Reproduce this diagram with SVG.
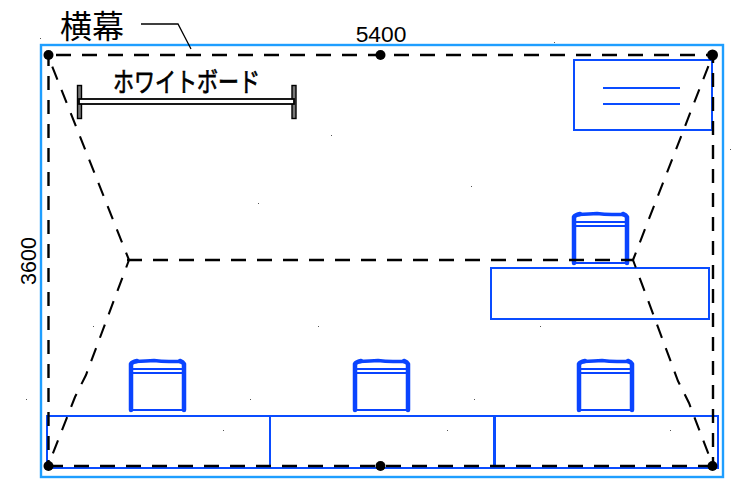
<svg xmlns="http://www.w3.org/2000/svg" width="732" height="484" viewBox="0 0 732 484">
<style>
.b{fill:none;stroke:#0a4cff;stroke-width:2}
.c{fill:none;stroke:#0a44ff;stroke-width:2}
.t{fill:none;stroke:#0a44ff;stroke-width:4.500;stroke-linecap:round;stroke-linejoin:round}
.u{fill:none;stroke:#0a44ff;stroke-width:3.500;stroke-linecap:round;stroke-linejoin:round}
.d{fill:none;stroke:#000;stroke-width:2.4;stroke-dasharray:15 11}
.v{fill:none;stroke:#000;stroke-width:2.4;stroke-dasharray:14 10}
.g{fill:none;stroke:#000;stroke-width:2.1;stroke-dasharray:14 11}
.k{fill:#000}
.p{fill:#777;stroke:#000;stroke-width:1.4}
.s{fill:#555}
text{font-family:"Liberation Sans","Noto Sans CJK JP",sans-serif;fill:#000}
</style>
<defs>
<g id="chair">
<path class="t" d="M0 50V4Q1 2 6 1"/>
<path class="t" d="M53 50V4Q52 2 49 1"/>
<path class="u" d="M4 1.500Q16 1 23 0.500Q30 1.500 38 1.500L50 1.500"/>
<path class="c" d="M0 9H53M0 13H53M0 50H53"/>
</g>
</defs>
<g id="outer"><rect x="41" y="45" width="682" height="432" fill="none" stroke="#1e9eff" stroke-width="2.4"/></g>
<g id="screen"><rect class="b" x="574" y="60" width="138" height="70"/><path class="b" d="M603 88H680M603 104H680"/></g>
<g id="table"><rect class="b" x="491" y="268" width="218" height="51"/></g>
<g id="chair1"><use href="#chair" x="574" y="213"/></g>
<g id="chair2"><use href="#chair" x="131" y="360"/></g>
<g id="chair3"><use href="#chair" x="355" y="360"/></g>
<g id="chair4"><use href="#chair" x="579" y="360"/></g>
<g id="desks"><rect class="b" x="47" y="416" width="671" height="52"/><path class="b" d="M270 416V468"/><path class="b" style="stroke-width:3" d="M494.500 416V468"/></g>
<g id="whiteboard">
<rect class="p" x="77.500" y="85.500" width="4" height="33"/><rect class="p" x="292" y="85.500" width="4" height="33"/>
<rect x="79" y="99" width="215" height="5" fill="#fff" stroke="#000" stroke-width="1.800"/>
<text x="113" y="91.500" font-size="27" textLength="147" lengthAdjust="spacingAndGlyphs" stroke="#000" stroke-width="0.700">ホワイトボード</text>
</g>
<g id="connectors">
<path class="d" d="M56 55H713"/>
<path class="v" stroke-dashoffset="3" d="M48.500 55V466"/>
<path class="v" stroke-dashoffset="6" d="M713 55V466"/>
<path class="d" d="M48 466H713"/>
<path class="d" d="M127 260H633"/>
<path class="g" stroke-dashoffset="6" d="M129 260L52 66"/>
<path class="g" stroke-dashoffset="6" d="M129 260L86 375L75 397L48 466"/>
<path class="g" stroke-dashoffset="6" d="M633 260L710 62"/>
<path class="g" stroke-dashoffset="6" d="M633 260L678 381L689 403L713 466"/>
<path fill="none" stroke="#000" stroke-width="1.300" d="M141 24H178L191 49"/>
</g>
<g id="points">
<circle class="k" cx="48.500" cy="55" r="5"/><circle class="k" cx="380.500" cy="55" r="5"/><circle class="k" cx="712.500" cy="55" r="5.500"/>
<circle class="k" cx="48.500" cy="466" r="5"/><circle class="k" cx="380.500" cy="466" r="5"/><circle class="k" cx="712.500" cy="466" r="5"/>
</g>
<g id="labels">
<text x="60" y="38" font-size="32">横幕</text>
<text x="381" y="42" font-size="22.800" text-anchor="middle">5400</text>
<text transform="translate(36 261) rotate(-90)" font-size="21.500" text-anchor="middle">3600</text>
</g>
<g id="specks" class="s">
<rect x="40" y="38" width="1" height="1"/><rect x="554" y="42" width="1" height="1"/><rect x="331" y="135" width="1" height="1"/><rect x="471" y="186" width="1" height="1"/><rect x="258" y="203" width="1" height="1"/><rect x="730" y="149" width="1" height="1"/><rect x="540" y="326" width="1" height="1"/><rect x="318" y="326" width="1" height="1"/><rect x="93" y="326" width="1" height="1"/><rect x="26" y="399" width="1" height="1"/><rect x="250" y="399" width="1" height="1"/><rect x="474" y="399" width="1" height="1"/><rect x="223" y="430" width="1" height="1"/><rect x="447" y="430" width="1" height="1"/><rect x="670" y="430" width="1" height="1"/>
</g>
</svg>
